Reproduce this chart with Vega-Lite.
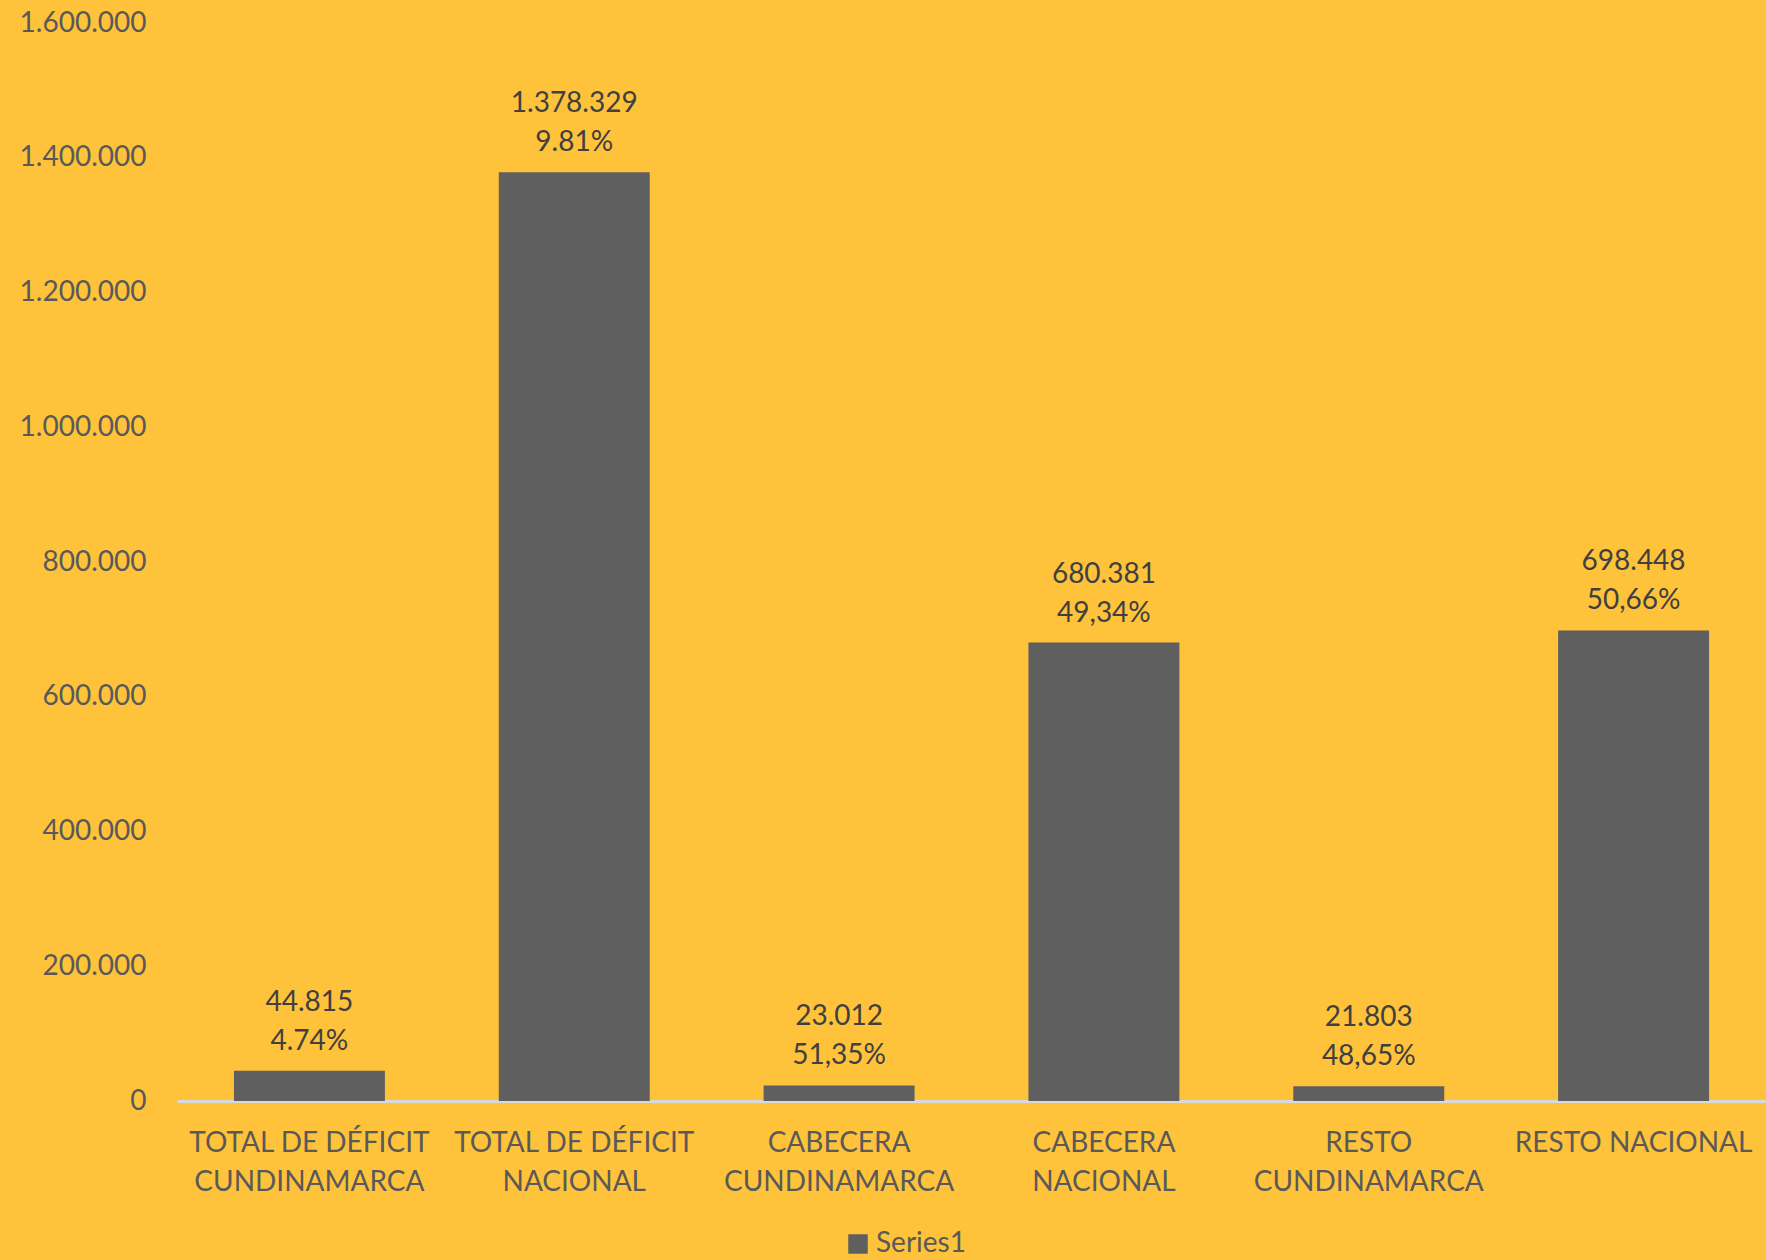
{
  "$schema": "https://vega.github.io/schema/vega-lite/v6.json",
  "autosize": {"type": "none"},
  "width": 1589,
  "height": 1078,
  "padding": {"left": 177, "top": 23, "right": 0, "bottom": 159},
  "background": "#FFC23B",
  "config": {
    "view": {"stroke": null},
    "font": "Lato",
    "locale": {"number": {"decimal": ",", "thousands": ".", "grouping": [3], "currency": ["", ""]}}
  },
  "data": {
    "values": [
      {"categoria": "TOTAL DE DÉFICIT|CUNDINAMARCA", "valor": 44815, "etiqueta": "44.815\n4.74%", "serie": "Series1"},
      {"categoria": "TOTAL DE DÉFICIT|NACIONAL", "valor": 1378329, "etiqueta": "1.378.329\n9.81%", "serie": "Series1"},
      {"categoria": "CABECERA|CUNDINAMARCA", "valor": 23012, "etiqueta": "23.012\n51,35%", "serie": "Series1"},
      {"categoria": "CABECERA|NACIONAL", "valor": 680381, "etiqueta": "680.381\n49,34%", "serie": "Series1"},
      {"categoria": "RESTO|CUNDINAMARCA", "valor": 21803, "etiqueta": "21.803\n48,65%", "serie": "Series1"},
      {"categoria": "RESTO NACIONAL", "valor": 698448, "etiqueta": "698.448\n50,66%", "serie": "Series1"}
    ]
  },
  "encoding": {
    "x": {
      "field": "categoria",
      "type": "nominal",
      "sort": null,
      "title": null,
      "scale": {"paddingInner": 0.43, "paddingOuter": 0.215},
      "axis": {
        "labelExpr": "split(datum.value, '|')",
        "labelAngle": 0,
        "labelFontSize": 28,
        "labelColor": "#595959",
        "labelLineHeight": 39,
        "labelPadding": 28,
        "labelLimit": 400,
        "ticks": false,
        "domainColor": "#D9D9D9",
        "domainWidth": 3
      }
    },
    "y": {
      "field": "valor",
      "type": "quantitative",
      "title": null,
      "scale": {"domain": [0, 1600000], "nice": false},
      "axis": {
        "values": [0, 200000, 400000, 600000, 800000, 1000000, 1200000, 1400000, 1600000],
        "format": ",.0f",
        "labelFontSize": 28,
        "labelColor": "#595959",
        "labelPadding": 31,
        "ticks": false,
        "domain": false,
        "grid": false
      }
    }
  },
  "layer": [
    {
      "mark": {"type": "bar", "color": "#5F5F5F"},
      "encoding": {
        "color": {
          "field": "serie",
          "type": "nominal",
          "scale": {"range": ["#5F5F5F"]},
          "legend": {
            "title": null,
            "orient": "none",
            "legendX": 667,
            "legendY": 1207,
            "symbolType": "square",
            "symbolSize": 380,
            "labelFontSize": 28,
            "labelColor": "#595959"
          }
        }
      }
    },
    {
      "mark": {
        "type": "text",
        "baseline": "bottom",
        "dy": -54,
        "fontSize": 28,
        "color": "#404040",
        "lineBreak": "\n",
        "lineHeight": 39
      },
      "encoding": {
        "text": {"field": "etiqueta"}
      }
    }
  ]
}
